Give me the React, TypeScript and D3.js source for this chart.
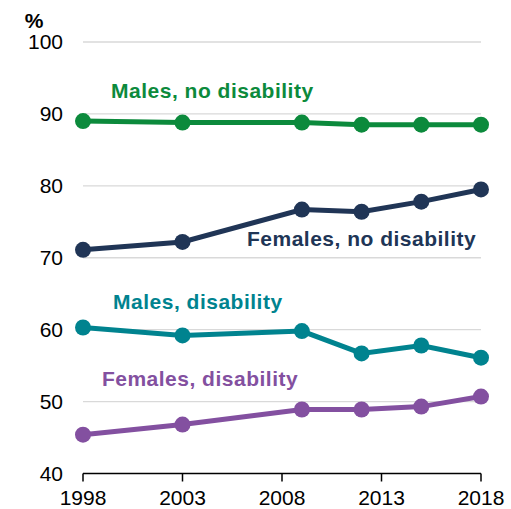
import React from "react";
import * as d3 from "d3";

const years = [1998, 2003, 2009, 2012, 2015, 2018];
const malesNoDis = [89.0, 88.8, 88.8, 88.5, 88.5, 88.5];
const femalesNoDis = [71.1, 72.2, 76.7, 76.4, 77.8, 79.5];
const malesDis = [60.3, 59.2, 59.8, 56.7, 57.8, 56.1];
const femalesDis = [45.4, 46.8, 48.9, 48.9, 49.3, 50.7];
const yTicks = [40, 50, 60, 70, 80, 90, 100];
const xTicks = [1998, 2003, 2008, 2013, 2018];

const seriesNames = ["Males, no disability", "Females, no disability", "Males, disability", "Females, disability"];
const seriesValues = [malesNoDis, femalesNoDis, malesDis, femalesDis];
const seriesColors = ["#0c8a3c", "#203556", "#00838f", "#8350a0"];
// label anchor positions in data space (year, value)
const labelPos: [number, number][] = [
  [1999.41, 92.17],
  [2006.24, 71.67],
  [1999.51, 62.87],
  [1998.95, 52.16],
];

export default function App() {
  const W = 511, H = 509;
  const x = d3.scaleLinear().domain([1998, 2018]).range([83, 481]);
  const y = d3.scaleLinear().domain([40, 100]).range([473.5, 42]);
  const line = d3.line<number>().x((_, i) => x(years[i])).y((d) => y(d));
  const font = "'Liberation Sans', Arial, sans-serif";
  return (
    <svg width={W} height={H} style={{ position: "absolute", left: 0, top: 0 }} fontFamily={font}>
      <rect width={W} height={H} fill="#fff" />
      {yTicks.filter((t) => t > 40).map((t) => (
        <line key={t} x1={x(1998)} x2={x(2018)} y1={y(t)} y2={y(t)} stroke="#d9d9d9" strokeWidth={1.3} />
      ))}
      {yTicks.map((t) => (
        <text key={t} x={63} y={y(t)} dy="0.35em" textAnchor="end" fontSize={21} fill="#000">{t}</text>
      ))}
      <text x={34} y={28} textAnchor="middle" fontSize={21} fontWeight="bold" fill="#000">%</text>
      <line x1={x(1998)} x2={x(2018)} y1={y(40)} y2={y(40)} stroke="#000" strokeWidth={1.5} />
      {xTicks.map((t) => (
        <g key={t}>
          <line x1={x(t)} x2={x(t)} y1={y(40)} y2={y(40) + 8} stroke="#000" strokeWidth={1.5} />
          <text x={x(t)} y={505} textAnchor="middle" fontSize={21} fill="#000">{t}</text>
        </g>
      ))}
      {seriesValues.map((vals, si) => (
        <g key={si}>
          <path d={line(vals) || ""} fill="none" stroke={seriesColors[si]} strokeWidth={5} />
          {vals.map((v, i) => (
            <circle key={i} cx={x(years[i])} cy={y(v)} r={8} fill={seriesColors[si]} />
          ))}
          <text x={x(labelPos[si][0])} y={y(labelPos[si][1])} fontSize={21} letterSpacing={0.5} fontWeight="bold" fill={seriesColors[si]}>
            {seriesNames[si]}
          </text>
        </g>
      ))}
    </svg>
  );
}
